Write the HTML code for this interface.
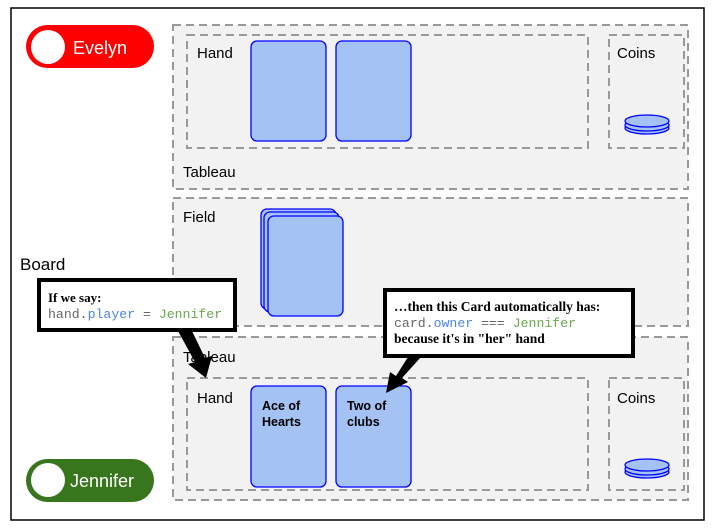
<!DOCTYPE html>
<html><head><style>body{margin:0;background:#fff}svg{display:block}</style></head><body>
<svg width="717" height="528" xmlns="http://www.w3.org/2000/svg" font-family="Liberation Sans, sans-serif">
<rect x="11" y="8" width="693" height="512" fill="#fff" stroke="#000" stroke-width="1.5"/>
<g fill="#f2f2f2" stroke="#999" stroke-width="2" stroke-dasharray="8,5">
<rect x="173" y="25" width="515" height="164"/>
<rect x="187" y="35" width="401" height="113"/>
<rect x="609" y="35" width="75" height="113"/>
<rect x="173" y="198" width="515" height="128"/>
<rect x="173" y="337" width="515" height="163"/>
<rect x="187" y="378" width="401" height="112"/>
<rect x="609" y="378" width="75" height="112"/>
</g>
<g font-size="15" fill="#000">
<text x="197" y="58">Hand</text><text x="617" y="58">Coins</text>
<text x="183" y="177">Tableau</text><text x="183" y="222">Field</text>
<text x="183" y="362">Tableau</text><text x="197" y="403">Hand</text><text x="617" y="403">Coins</text>
<text x="20" y="270" font-size="17">Board</text>
</g>
<g fill="#a4c2f4" stroke="#00f" stroke-width="1.3">
<rect x="251" y="41" width="75" height="100" rx="6"/>
<rect x="336" y="41" width="75" height="100" rx="6"/>
<rect x="261" y="209" width="75" height="100" rx="6"/>
<rect x="264" y="212" width="75" height="100" rx="6"/>
<rect x="268" y="216" width="75" height="100" rx="6"/>
<rect x="251" y="386" width="75" height="101" rx="6"/>
<rect x="336" y="386" width="75" height="101" rx="6"/>
<ellipse cx="647" cy="128" rx="22" ry="6"/><ellipse cx="647" cy="125" rx="22" ry="6"/><ellipse cx="647" cy="121" rx="22" ry="6"/>
<ellipse cx="647" cy="472" rx="22" ry="6"/><ellipse cx="647" cy="469" rx="22" ry="6"/><ellipse cx="647" cy="465" rx="22" ry="6"/>
</g>
<g font-size="12.5" font-weight="bold" fill="#000">
<text x="262" y="410">Ace of</text><text x="262" y="426">Hearts</text>
<text x="347" y="410">Two of</text><text x="347" y="426">clubs</text>
</g>
<rect x="26" y="25" width="128" height="43" rx="21.5" fill="#f00"/>
<circle cx="48" cy="47" r="17" fill="#fff"/>
<text x="73" y="54" font-size="18" fill="#fff">Evelyn</text>
<rect x="26" y="459" width="128" height="43" rx="21.5" fill="#38761d"/>
<circle cx="48" cy="480" r="17" fill="#fff"/>
<text x="70" y="487" font-size="18" fill="#fff">Jennifer</text>
<polygon points="178,331 192,331 205,358 212,356 206,378 188,364 195,362" fill="#000"/>
<polygon points="408,357 421,357 402,378 408,382 386,393 390,372 396,376" fill="#000"/>
<rect x="39" y="280" width="196" height="50" fill="#fff" stroke="#000" stroke-width="4"/>
<text x="48" y="302" font-family="Liberation Serif, serif" font-weight="bold" font-size="13">If we say:</text>
<text x="48" y="318" font-family="Liberation Mono, monospace" font-size="13.2"><tspan fill="#666">hand.</tspan><tspan fill="#4a86e8">player</tspan><tspan fill="#666"> = </tspan><tspan fill="#6aa84f">Jennifer</tspan></text>
<rect x="385" y="290" width="248" height="66" fill="#fff" stroke="#000" stroke-width="4"/>
<text x="394" y="311" font-family="Liberation Serif, serif" font-weight="bold" font-size="13.5">…then this Card automatically has:</text>
<text x="394" y="327" font-family="Liberation Mono, monospace" font-size="13.2"><tspan fill="#666">card.</tspan><tspan fill="#4a86e8">owner</tspan><tspan fill="#666"> === </tspan><tspan fill="#6aa84f">Jennifer</tspan></text>
<text x="394" y="343" font-family="Liberation Serif, serif" font-weight="bold" font-size="13.5">because it's in "her" hand</text>
</svg>
</body></html>
